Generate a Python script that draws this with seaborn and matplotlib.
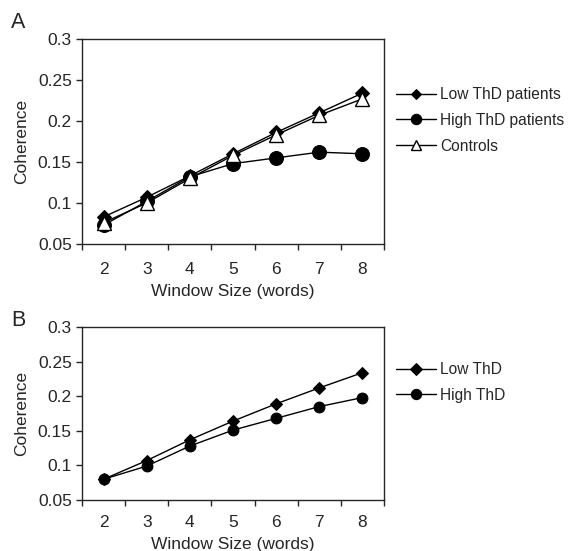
import matplotlib
matplotlib.use('Agg')
import matplotlib.pyplot as plt
from matplotlib.ticker import FuncFormatter, MultipleLocator, FixedLocator
import seaborn as sns
import pandas as pd

# データ
window_sizes = [2, 3, 4, 5, 6, 7, 8]

# パネル A
a_low = [0.083, 0.107, 0.133, 0.160, 0.186, 0.210, 0.234]
a_high = [0.073, 0.102, 0.132, 0.148, 0.155, 0.162, 0.160]
a_ctrl = [0.076, 0.100, 0.130, 0.158, 0.183, 0.207, 0.227]

# パネル B
b_low = [0.080, 0.107, 0.137, 0.164, 0.189, 0.212, 0.234]
b_high = [0.080, 0.099, 0.128, 0.151, 0.168, 0.185, 0.198]

sns.set_style('ticks')
plt.rcParams['font.family'] = ['Liberation Sans', 'DejaVu Sans']

fig = plt.figure(figsize=(5.71, 5.51), dpi=100)
ax_a = fig.add_axes([82/571, 1 - 244/551, 302/571, 205/551])
ax_b = fig.add_axes([82/571, 1 - 500/551, 302/571, 173/551])

styles = {
    'diamond': dict(marker='D', markerfacecolor='black', markeredgecolor='black'),
    'circle': dict(marker='o', markerfacecolor='black', markeredgecolor='black'),
    'triangle': dict(marker='^', markerfacecolor='white', markeredgecolor='black',
                     markeredgewidth=1.0),
}


def draw(ax, series, sizes, xpad, xlabelpad):
    for label, vals, kind in series:
        df = pd.DataFrame({'x': window_sizes, 'y': vals})
        sns.lineplot(data=df, x='x', y='y', ax=ax, color='black', linewidth=1.0,
                     label=label, markersize=sizes[kind], **styles[kind])
    ax.set_xlim(1.5, 8.5)
    ax.set_ylim(0.05, 0.3)
    # カテゴリ軸風：目盛り線はカテゴリの境界
    ax.xaxis.set_major_locator(FixedLocator(window_sizes))
    ax.xaxis.set_minor_locator(FixedLocator([1.5 + i for i in range(8)]))
    ax.tick_params(axis='x', which='major', length=0, pad=xpad, labelsize=12.5)
    ax.tick_params(axis='x', which='minor', length=4.3, width=1, direction='out')
    ax.yaxis.set_major_locator(MultipleLocator(0.05))
    ax.yaxis.set_major_formatter(FuncFormatter(lambda v, p: f'{v:g}'))
    ax.tick_params(axis='y', length=4.3, width=1, labelsize=12.5, pad=3)
    for s in ax.spines.values():
        s.set_linewidth(1.0)
        s.set_visible(True)
    ax.set_xlabel('Window Size (words)', fontsize=12.5, labelpad=xlabelpad)
    ax.set_ylabel('Coherence', fontsize=12.5, labelpad=6)


draw(ax_a, [('Low ThD patients', a_low, 'diamond'),
            ('High ThD patients', a_high, 'circle'),
            ('Controls', a_ctrl, 'triangle')],
     {'diamond': 7, 'circle': 10, 'triangle': 10}, 13, 5)
draw(ax_b, [('Low ThD', b_low, 'diamond'),
            ('High ThD', b_high, 'circle')],
     {'diamond': 6.5, 'circle': 7.8}, 11, 4.5)

leg_kw = dict(frameon=False, fontsize=11.2, handlelength=2.55, handletextpad=0.3,
              labelspacing=0.7, borderaxespad=0, borderpad=0, loc='upper left',
              markerscale=0.75)
ax_a.legend(bbox_to_anchor=(396/571, 1 - 87/551), bbox_transform=fig.transFigure, **leg_kw)
ax_b.legend(bbox_to_anchor=(396/571, 1 - 362/551), bbox_transform=fig.transFigure,
            **dict(leg_kw, markerscale=0.95))

fig.text(11/571, 1 - 28/551, 'A', fontsize=15.5)
fig.text(11/571, 1 - 326/551, 'B', fontsize=15.5)

fig.savefig('out.png', dpi=100)
